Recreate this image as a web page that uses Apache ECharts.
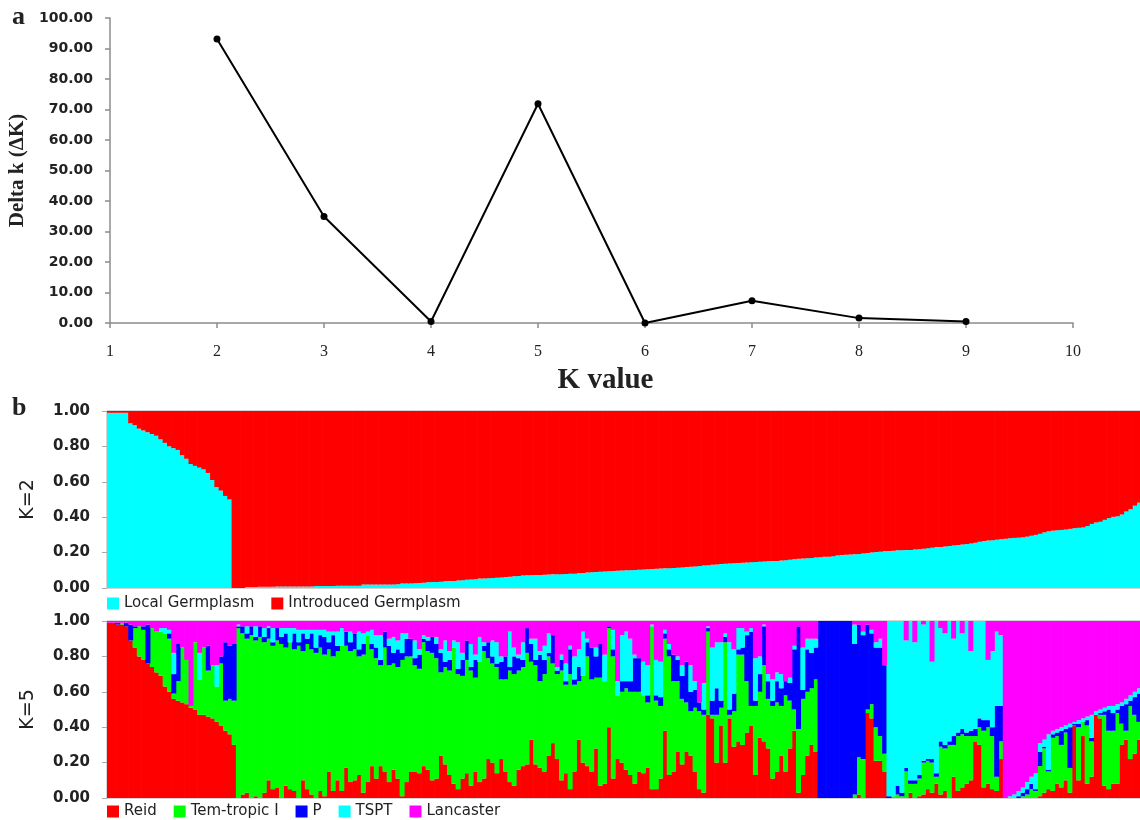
<!DOCTYPE html>
<html><head><meta charset="utf-8">
<script src="https://cdn.jsdelivr.net/npm/echarts@6.0.0/dist/echarts.min.js"></script>
<style>html,body{margin:0;padding:0;background:#fff}#c{width:1140px;height:820px}</style>
</head><body><div id="c"></div>
<script>
// ---- panel a: Delta K by K ----
const kValues = [2, 3, 4, 5, 6, 7, 8, 9];
const deltaK = [93.1, 34.9, 0.5, 71.9, 0.0, 7.3, 1.6, 0.5];

// ---- panel b, K=2 (membership proportion per sample) ----
const localK2 = [
.99,.99,.99,.99,.99,.93,.92,.90,.89,.88,
.87,.86,.84,.82,.80,.79,.78,.75,.73,.70,
.69,.68,.67,.65,.61,.57,.55,.52,.50,0,
0,0,.005,.005,.005,.007,.007,.007,.007,.008,
.008,.008,.008,.008,.008,.008,.008,.008,.012,.012,
.012,.012,.012,.013,.013,.013,.013,.013,.013,.02,
.02,.02,.02,.02,.02,.02,.02,.021,.025,.025,
.025,.027,.028,.03,.032,.034,.034,.036,.038,.04,
.04,.042,.044,.046,.048,.05,.053,.053,.055,.057,
.058,.06,.062,.064,.066,.068,.07,.072,.072,.074,
.074,.075,.076,.077,.078,.078,.079,.08,.081,.083,
.085,.087,.089,.09,.092,.093,.095,.096,.097,.099,
.10,.10,.102,.103,.105,.106,.108,.109,.11,.111,
.112,.113,.114,.116,.118,.12,.122,.125,.127,.129,
.131,.133,.135,.137,.138,.14,.141,.142,.144,.146,
.147,.148,.15,.151,.152,.153,.155,.157,.159,.162,
.165,.166,.168,.17,.172,.174,.176,.177,.18,.183,
.186,.188,.189,.19,.192,.195,.198,.2,.203,.205,
.207,.209,.211,.213,.213,.214,.215,.217,.219,.222,
.225,.228,.231,.232,.234,.237,.24,.243,.246,.249,
.252,.256,.262,.266,.268,.27,.272,.275,.278,.281,
.283,.284,.286,.29,.295,.30,.306,.314,.32,.324,
.326,.328,.33,.334,.338,.34,.342,.35,.362,.37,
.374,.385,.395,.402,.405,.415,.432,.445,.465,.482];
const introducedK2 = [
.01,.01,.01,.01,.01,.07,.08,.10,.11,.12,
.13,.14,.16,.18,.20,.21,.22,.25,.27,.30,
.31,.32,.33,.35,.39,.43,.45,.48,.50,1,
1,1,.995,.995,.995,.993,.993,.993,.993,.992,
.992,.992,.992,.992,.992,.992,.992,.992,.988,.988,
.988,.988,.988,.987,.987,.987,.987,.987,.987,.98,
.98,.98,.98,.98,.98,.98,.98,.979,.975,.975,
.975,.973,.972,.97,.968,.966,.966,.964,.962,.96,
.96,.958,.956,.954,.952,.95,.947,.947,.945,.943,
.942,.94,.938,.936,.934,.932,.93,.928,.928,.926,
.926,.925,.924,.923,.922,.922,.921,.92,.919,.917,
.915,.913,.911,.91,.908,.907,.905,.904,.903,.901,
.90,.90,.898,.897,.895,.894,.892,.891,.89,.889,
.888,.887,.886,.884,.882,.88,.878,.875,.873,.871,
.869,.867,.865,.863,.862,.86,.859,.858,.856,.854,
.853,.852,.85,.849,.848,.847,.845,.843,.841,.838,
.835,.834,.832,.83,.828,.826,.824,.823,.82,.817,
.814,.812,.811,.81,.808,.805,.802,.80,.797,.795,
.793,.791,.789,.787,.787,.786,.785,.783,.781,.778,
.775,.772,.769,.768,.766,.763,.76,.757,.754,.751,
.748,.744,.738,.734,.732,.73,.728,.725,.722,.719,
.717,.716,.714,.71,.705,.70,.694,.686,.68,.676,
.674,.672,.67,.666,.662,.66,.658,.65,.638,.63,
.626,.615,.605,.598,.595,.585,.568,.555,.535,.518];

// ---- panel b, K=5 ----
const reidK5 = [
.99,.99,.98,.98,.97,.89,.85,.80,.78,.76,
.74,.71,.69,.63,.60,.56,.55,.54,.53,.51,
.50,.47,.47,.46,.45,.43,.41,.38,.36,.30,
0,.02,.03,0,.01,0,.03,.10,.05,.06,
0,.07,.05,.04,0,.10,.05,.02,0,.04,
.01,.15,.04,.10,.04,.17,.09,.10,.13,.03,
.09,.18,.11,.18,.15,.09,.16,.11,.01,.09,
.15,.15,.14,.18,.16,.10,.11,.24,.19,.13,
.08,.05,.11,.14,.07,.15,.09,.11,.22,.20,
.14,.22,.15,.09,.07,.16,.18,.19,.33,.19,
.17,.15,.24,.31,.22,.10,.14,.05,.15,.33,
.20,.18,.15,.28,.07,.08,.40,.11,.22,.20,
.16,.13,.08,.15,.14,.17,.05,.05,.11,.38,
.13,.15,.26,.19,.26,.24,.15,.05,.03,.47,
.45,.20,.41,.20,.45,.29,.32,.30,.37,.41,
.13,.34,.32,.28,.11,.15,.24,.15,.28,.38,
.03,.13,.24,.30,.26,0,0,0,0,0,
0,0,0,0,.02,0,.48,.45,.21,.21,
.15,0,0,0,0,0,.03,0,.01,.02,
.05,.03,.08,.02,.04,0,.12,.04,.06,.08,
.10,.32,.30,.06,.08,.05,.04,.22,0,0,
0,0,0,0,0,0,.01,.03,.05,.04,
.08,.06,.10,.03,.41,.10,.35,.08,.12,.47,
.45,.07,.05,.08,.08,.30,.33,.22,.25,.33];
const temTropicK5 = [
0,0,0,.01,0,0,.11,.17,.17,0,
.22,.23,.25,.30,.30,.03,.11,.31,.25,.01,
.38,.20,.38,.26,.30,.20,.35,.17,.20,.25,
.96,.91,.87,.92,.88,.91,.85,.80,.81,.83,
.87,.78,.83,.80,.86,.73,.82,.82,.82,.81,
.80,.69,.76,.73,.82,.69,.74,.74,.67,.78,
.83,.66,.68,.57,.70,.66,.60,.63,.77,.71,
.65,.60,.59,.70,.67,.72,.68,.47,.55,.59,
.77,.65,.58,.64,.65,.53,.68,.72,.57,.56,
.60,.45,.52,.63,.63,.56,.56,.63,.44,.56,
.49,.55,.56,.45,.48,.62,.50,.65,.49,.33,
.49,.62,.52,.40,.61,.58,.56,.69,.36,.40,
.46,.47,.52,.45,.44,.37,.92,.50,.41,.52,
.67,.51,.40,.37,.28,.25,.36,.44,.44,.47,
.02,.27,.10,.68,.02,.20,.49,.51,.29,.11,
.39,.26,.43,.28,.41,.39,.28,.43,.27,.12,
.36,.43,.36,.32,.41,0,0,0,0,0,
0,0,0,.02,.21,.22,.02,.08,.19,.14,
.10,0,.01,.02,.01,.15,.05,.08,.10,.18,
.16,.17,.04,.27,.24,.30,.18,.31,.30,.27,
.25,.03,.10,.32,.32,.30,.08,.10,0,0,
0,0,.01,.02,.05,.04,.17,.25,.10,.30,
.27,.24,.27,.14,0,.30,.08,.33,.20,0,
.02,.40,.33,.30,.40,.12,.05,.30,.22,.10];
const pK5 = [
0,0,.01,0,.02,.09,.01,0,.02,.22,
0,0,0,0,.03,.11,.21,0,0,0,
0,0,0,.14,0,0,.04,.33,.30,.32,
.01,.04,.03,.05,.02,.06,.03,.06,.02,.07,
.04,.08,0,.09,.02,.10,.03,.09,.03,.07,
.10,.04,.12,.03,0,.08,.05,.09,.04,.06,
0,.03,.06,.03,.09,.11,.06,.10,.04,.10,
.10,.04,.08,.02,.06,.09,.08,.11,.03,.06,
0,.03,.09,.11,.02,.10,0,.03,.09,.04,
.02,.10,.13,.02,.10,.07,.04,.14,.10,.03,
.15,.08,.02,.16,.02,.06,.02,.14,.03,.08,
0,.08,.18,.12,.19,0,.01,.04,0,.06,
.04,.06,.19,.19,0,.04,0,.03,.05,.03,
.04,.15,.12,.13,.23,.11,.10,.05,.03,.02,
.08,.15,.04,.03,.03,.10,.03,.04,.26,.42,
.03,.10,.22,.10,.03,.12,.10,.08,.10,.34,
.58,.05,.24,.20,.18,1,1,1,1,1,
1,1,1,.85,.75,.70,.48,.40,.45,.50,
.50,.01,0,.05,.02,.02,.02,.02,.02,.01,
.01,.02,.02,.03,.02,.02,.05,.02,.03,.02,
.03,.04,.05,.06,.04,.05,.40,.20,0,0,
0,.01,.02,.03,.03,.01,.08,.01,.01,.02,
.02,.08,.02,.23,.01,.02,0,.03,.02,0,
.01,.02,.12,.10,.02,.10,.15,.03,.10,.16];
const tsptK5 = [
0,0,0,0,0,0,0,0,0,0,
0,0,.02,.03,.02,.12,0,0,0,0,
0,.15,0,0,0,.12,0,0,0,0,
.01,0,.04,0,.06,0,.05,.01,.08,0,
.05,.03,.08,.03,.07,.02,.05,.02,.10,.03,
.04,.06,.02,.08,.10,0,.06,0,.10,.06,
.02,.08,.07,.14,0,.04,.09,.05,.11,.03,
0,.10,.03,.02,.02,0,.04,.02,.12,.05,
.04,.15,.04,0,.13,.03,.14,.02,0,.09,
.12,.03,0,.20,.05,.02,.10,0,.03,.12,
.02,.08,.11,0,.02,.03,.10,.02,.13,.10,
.25,.02,0,.05,0,.15,0,.11,.08,.26,
.28,.24,.02,0,.19,.17,.01,.20,.20,.02,
.03,0,.02,.06,0,.15,.05,0,.15,.01,
.30,.26,.33,.02,.38,.25,.12,.11,.02,.02,
.24,.10,.01,.04,.12,.05,.08,0,.03,.02,
0,.24,.06,.08,.05,0,0,0,0,0,
0,0,0,.11,0,.02,0,.02,.03,.05,
0,.99,.99,.93,.97,.72,.90,.78,.87,.77,
.78,.55,.86,.64,.63,.68,.55,.63,.54,.63,
.45,.61,.55,.56,.34,.43,.42,.40,0,.01,
.02,.03,.03,.04,.04,.09,.05,.04,.20,.02,
.02,.02,.02,.02,.01,.02,.02,.02,.13,.02,
.02,.02,.02,.04,.03,.02,.03,.03,.03,.03];
const lancasterK5 = [
.01,.01,.01,.01,.01,.02,.03,.03,.03,.02,
.04,.06,.04,.04,.05,.18,.13,.15,.22,.48,
.12,.18,.15,.14,.25,.25,.20,.12,.14,.13,
.02,.03,.03,.03,.03,.03,.04,.03,.04,.04,
.04,.04,.04,.04,.05,.05,.05,.05,.05,.05,
.05,.06,.06,.06,.04,.06,.06,.07,.06,.07,
.06,.05,.08,.08,.06,.10,.09,.11,.07,.07,
.10,.11,.16,.08,.09,.09,.09,.16,.11,.17,
.11,.12,.18,.11,.13,.19,.09,.12,.12,.11,
.12,.20,.20,.06,.15,.19,.12,.04,.10,.10,
.17,.14,.07,.08,.26,.19,.24,.14,.20,.16,
.06,.10,.15,.15,.13,.19,.03,.05,.34,.08,
.06,.10,.19,.21,.23,.25,.02,.22,.23,.05,
.13,.19,.20,.25,.23,.25,.34,.46,.35,.03,
.15,.12,.12,.07,.12,.16,.04,.04,.06,.04,
.21,.20,.02,.30,.33,.29,.30,.34,.32,.14,
.03,.15,.10,.10,.10,0,0,0,0,0,
0,0,0,.02,.02,.06,.02,.05,.12,.10,
.25,0,0,0,0,.11,0,.12,0,.02,
0,.23,0,.04,.07,0,.10,0,.07,0,
.17,0,0,0,.22,.17,.06,.08,1,.99,
.98,.96,.94,.91,.88,.86,.69,.67,.64,.62,
.61,.60,.59,.58,.57,.56,.55,.54,.53,.51,
.50,.49,.48,.48,.47,.46,.44,.42,.40,.38];

const samples = localK2.map((_, i) => 'S' + (i + 1));
const k2Names = ['Local Germplasm', 'Introduced Germplasm'];
const k5Names = ['Reid', 'Tem-tropic I', 'P', 'TSPT', 'Lancaster'];

const C = { cyan: '#00FFFF', red: '#FF0000', green: '#00FF00', blue: '#0000FF', magenta: '#FF00FF' };
const axisGray = '#8c8c8c';
const sans = 'DejaVu Sans';
const serif = 'Liberation Serif';

function structBar(name, data, stack, idx, color) {
  return {
    name, type: 'bar', stack, data, xAxisIndex: idx, yAxisIndex: idx,
    barWidth: 5, barCategoryGap: '0%',
    itemStyle: { color, borderWidth: 0 },
    emphasis: { disabled: true }, silent: true
  };
}
function structY(idx, title) {
  return {
    type: 'value', gridIndex: idx, min: 0, max: 1, interval: 0.2,
    name: title, nameLocation: 'middle', nameRotate: 90, nameGap: 69,
    nameTextStyle: { fontFamily: sans, fontSize: 19, color: '#222' },
    axisLine: { show: false },
    axisTick: { show: true, length: 5, lineStyle: { color: '#aaa' } },
    axisLabel: { fontFamily: sans, fontWeight: 'bold', fontSize: 15, color: '#222', margin: 17,
      formatter: v => v.toFixed(2) },
    splitLine: { show: false }
  };
}
function structX(idx) {
  return {
    type: 'category', gridIndex: idx, data: samples, boundaryGap: true,
    axisLine: { show: false }, axisTick: { show: false }, axisLabel: { show: false }, splitLine: { show: false }
  };
}

const chart = echarts.init(document.getElementById('c'), null, { renderer: 'canvas' });
chart.setOption({
  animation: false,
  backgroundColor: '#fff',
  grid: [
    { left: 110, top: 18, width: 963, height: 305, outerBoundsMode: 'none' },
    { left: 107, top: 411, width: 1034, height: 177, show: true, borderColor: '#aaa', borderWidth: 1, outerBoundsMode: 'none' },
    { left: 107, top: 621, width: 1034, height: 177, show: true, borderColor: '#aaa', borderWidth: 1, outerBoundsMode: 'none' }
  ],
  xAxis: [
    {
      type: 'value', gridIndex: 0, min: 1, max: 10, interval: 1,
      name: 'K value', nameLocation: 'middle', nameGap: 43,
      nameTextStyle: { fontFamily: serif, fontWeight: 'bold', fontSize: 29, color: '#222', padding: [0, 0, 0, 28] },
      axisLine: { lineStyle: { color: axisGray, width: 1.5 } },
      axisTick: { show: true, length: 5, lineStyle: { color: axisGray, width: 1.5 } },
      axisLabel: { fontFamily: serif, fontSize: 16, color: '#222', margin: 21 },
      splitLine: { show: false }
    },
    structX(1), structX(2)
  ],
  yAxis: [
    {
      type: 'value', gridIndex: 0, min: 0, max: 100, interval: 10,
      name: 'Delta k (\u0394K)', nameLocation: 'middle', nameRotate: 90, nameGap: 77,
      nameTextStyle: { fontFamily: serif, fontWeight: 'bold', fontSize: 21, color: '#222' },
      axisLine: { show: true, lineStyle: { color: axisGray, width: 1.5 } },
      axisTick: { show: true, length: 5, lineStyle: { color: axisGray, width: 1.5 } },
      axisLabel: { fontFamily: sans, fontWeight: 'bold', fontSize: 14, color: '#222', margin: 17,
        formatter: v => v.toFixed(2) },
      splitLine: { show: false }
    },
    structY(1, 'K=2'), structY(2, 'K=5')
  ],
  legend: [
    { data: k2Names, left: 107, top: 596, padding: 0, itemWidth: 12, itemHeight: 12, itemGap: 17,
      icon: 'rect', selectedMode: false,
      textStyle: { fontFamily: sans, fontSize: 15, color: '#222' } },
    { data: k5Names, left: 107, top: 804, padding: 0, itemWidth: 12, itemHeight: 12, itemGap: 17,
      icon: 'rect', selectedMode: false,
      textStyle: { fontFamily: sans, fontSize: 15, color: '#222' } }
  ],
  graphic: [
    { type: 'text', left: 12, top: 4, style: { text: 'a', font: 'bold 26px "Liberation Serif"', fill: '#222' } },
    { type: 'text', left: 12, top: 395, style: { text: 'b', font: 'bold 26px "Liberation Serif"', fill: '#222' } }
  ],
  series: [
    {
      name: 'Delta K', type: 'line', xAxisIndex: 0, yAxisIndex: 0,
      data: kValues.map((k, i) => [k, deltaK[i]]),
      symbol: 'circle', symbolSize: 7,
      lineStyle: { color: '#000', width: 2 },
      itemStyle: { color: '#000' }, silent: true
    },
    structBar(k2Names[0], localK2, 'k2', 1, C.cyan),
    structBar(k2Names[1], introducedK2, 'k2', 1, C.red),
    structBar(k5Names[0], reidK5, 'k5', 2, C.red),
    structBar(k5Names[1], temTropicK5, 'k5', 2, C.green),
    structBar(k5Names[2], pK5, 'k5', 2, C.blue),
    structBar(k5Names[3], tsptK5, 'k5', 2, C.cyan),
    structBar(k5Names[4], lancasterK5, 'k5', 2, C.magenta)
  ]
});
</script>
</body></html>
